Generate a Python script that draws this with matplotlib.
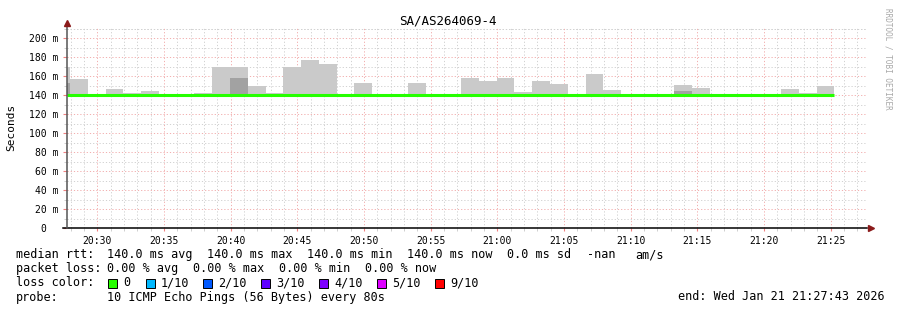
import matplotlib
matplotlib.use('Agg')
import matplotlib.pyplot as plt
from matplotlib.patches import Rectangle

# graph window: 20:27:43 .. 21:27:43, one smoke column per 80 s step
start_clock = '20:27:43'
step_s = 80
first_step_s = 13.5 - step_s          # first (partial) column starts before the window

# smoke tops per column (ms), light and dark shades; 140 means no smoke
smoke_light = [170, 157, 140, 146, 142, 144, 140, 140, 142, 170,
               169, 150, 142, 170, 177, 172.6, 140, 152.6, 140, 140,
               152.6, 140, 140, 158, 155, 158, 143, 155, 152, 140,
               162, 145, 140, 140, 140, 151, 147, 140, 140, 140,
               140, 146, 142, 150]
smoke_dark = [153, 140, 140, 140, 140, 140, 140, 140, 140, 140,
              158, 140, 140, 140, 140, 140, 140, 140, 140, 140,
              140, 140, 140, 140, 140, 140, 140, 140, 140, 140,
              140, 140, 140, 140, 140, 144, 140, 140, 140, 140,
              140, 140, 140, 140]
median_rtt = [140.0] * len(smoke_light)

x_labels = ['20:30', '20:35', '20:40', '20:45', '20:50', '20:55',
            '21:00', '21:05', '21:10', '21:15', '21:20', '21:25']
y_major = [0, 20, 40, 60, 80, 100, 120, 140, 160, 180, 200]
y_labels = ['0  ', '20 m', '40 m', '60 m', '80 m', '100 m', '120 m',
            '140 m', '160 m', '180 m', '200 m']

loss_labels = ['0', '1/10', '2/10', '3/10', '4/10', '5/10', '9/10']
loss_colors = ['#26ff00', '#00b8ff', '#0059ff', '#5e00ff', '#7e00ff', '#dd00ff', '#ff0000']

MONO = 'DejaVu Sans Mono'
W, H = 897, 310


def clock_to_s(s):
    parts = [int(p) for p in s.split(':')]
    while len(parts) < 3:
        parts.append(0)
    return parts[0] * 3600 + parts[1] * 60 + parts[2]


def px(x, y):
    return x / W, 1 - y / H


t0 = clock_to_s(start_clock)
major_x = [clock_to_s(l) - t0 for l in x_labels]
minor_x = [m + 60 * i for m in [major_x[0] - 300] + major_x for i in range(1, 5)]
minor_x = [m for m in minor_x if 0 <= m <= 3600 and m not in major_x]

fig = plt.figure(figsize=(W / 100, H / 100), dpi=100)
fig.patch.set_facecolor('white')
ax = fig.add_axes([67 / W, (H - 228) / H, 800 / W, 200 / H])
ax.set_xlim(0, 3600)
ax.set_ylim(0, 200 / 0.95)
for s in ax.spines.values():
    s.set_visible(False)

# grid
grid_kw = dict(linewidth=0.72, linestyle=(0, (1.2, 2.0)), zorder=0)
for x in minor_x:
    ax.axvline(x, color='#d2d2d2', **grid_kw)
for y in range(10, 211, 10):
    if y % 20:
        ax.axhline(y, color='#d2d2d2', **grid_kw)
ax.axhline(210, color='#d2d2d2', **grid_kw)
for x in major_x:
    ax.axvline(x, color='#f2b0b0', **grid_kw)
for y in y_major[1:]:
    ax.axhline(y, color='#f2b0b0', **grid_kw)

# smoke
lefts = [first_step_s + step_s * i for i in range(len(smoke_light))]
base = 140
ax.bar(lefts, [v - base for v in smoke_light], width=step_s, bottom=base,
       align='edge', color='#cacaca', linewidth=0, zorder=2)
ax.bar(lefts, [v - base for v in smoke_dark], width=step_s, bottom=base,
       align='edge', color='#a2a2a2', linewidth=0, zorder=3)

# median line
xs, ys = [], []
for l, m in zip(lefts, median_rtt):
    xs += [max(l, 0), l + step_s]
    ys += [m, m]
ax.plot(xs, ys, color=loss_colors[0], linewidth=2.2, zorder=4, solid_capstyle='butt')

# ticks
ax.set_xticks(major_x)
ax.set_xticklabels(x_labels)
ax.set_xticks(minor_x, minor=True)
ax.set_yticks(y_major)
ax.set_yticklabels(y_labels)
ax.set_yticks([y for y in range(10, 211, 10) if y % 20], minor=True)
ax.tick_params(axis='x', which='major', length=2.5, color='#f08080', pad=3.5,
               labelsize=7, labelfontfamily=MONO)
ax.tick_params(axis='x', which='minor', length=2, color='#c8c8c8')
ax.tick_params(axis='y', which='major', length=3, color='#f08080', pad=3,
               labelsize=7, labelfontfamily=MONO)
ax.tick_params(axis='y', which='minor', length=2, color='#c8c8c8')

# axes with arrows
ax.plot([-4 / 800, 1.0], [0, 0], transform=ax.transAxes, color='black',
        linewidth=1.1, clip_on=False, zorder=6)
ax.plot([0, 0], [0, 1.0 + 2 / 200], transform=ax.transAxes, color='#555555',
        linewidth=1.1, clip_on=False, zorder=6)
ax.plot([1.0 + 4 / 800], [0], transform=ax.transAxes, marker='>', markersize=4.5,
        color='#8b1a1a', clip_on=False, zorder=7)
ax.plot([0], [1.0 + 5 / 200], transform=ax.transAxes, marker='^', markersize=4.5,
        color='#8b1a1a', clip_on=False, zorder=7)

# titles
fig.text(*px(448, 24), 'SA/AS264069-4', ha='center', va='baseline',
         fontsize=9, family=MONO)
fig.text(*px(11, 127), 'Seconds', ha='center', va='center', rotation=90,
         fontsize=8, family=MONO)
fig.text(*px(888, 59), 'RRDTOOL / TOBI OETIKER', ha='center', va='center',
         rotation=270, fontsize=5.5, family=MONO, color='#a8a8a8')

# legend block
leg = dict(ha='left', va='baseline', fontsize=8.5, family=MONO)
lines = [
    (258, [(16, 'median rtt:'), (107, '140.0 ms avg'), (207, '140.0 ms max'),
           (307, '140.0 ms min'), (407, '140.0 ms now'), (507, '0.0 ms sd'),
           (587, '-nan'), (635, 'am/s')]),
    (272, [(16, 'packet loss:'), (107, '0.00 % avg'), (193, '0.00 % max'),
           (279, '0.00 % min'), (365, '0.00 % now')]),
    (286.5, [(16, 'loss color:')]),
    (300.5, [(16, 'probe:'), (107, '10 ICMP Echo Pings (56 Bytes) every 80s'),
             (678, 'end: Wed Jan 21 21:27:43 2026')]),
]
for y, items in lines:
    for x, t in items:
        fig.text(*px(x, y), t, **leg)

box_x = [108, 146, 203, 261, 319, 377, 435]
for bx, lab, col in zip(box_x, loss_labels, loss_colors):
    fx, fy = px(bx, 287.5)
    fig.add_artist(Rectangle((fx, fy), 9 / W, 9 / H, transform=fig.transFigure,
                             facecolor=col, edgecolor='black', linewidth=0.7))
    fig.text(*px(bx + 15, 286.5), lab, **leg)

fig.savefig('out.png', dpi=100, facecolor='white')
